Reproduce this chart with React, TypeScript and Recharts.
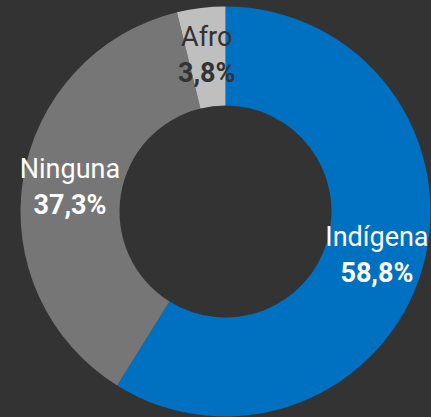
import { Cell, Pie, PieChart } from "recharts";

export const groups = ["Indígena", "Ninguna", "Afro"];
export const shares = [58.8, 37.3, 3.8];
export const colors = ["#0070c0", "#767676", "#bfbfbf"];
export const labelColors = ["#ffffff", "#ffffff", "#333333"];

const data = groups.map((name, i) => ({ name, value: shares[i] }));

const RADIAN = Math.PI / 180;

function renderLabel(props: any) {
    const { cx, cy, midAngle, innerRadius, outerRadius, index } = props;
    const r = (innerRadius + outerRadius) / 2 + 2;
    const x = cx + r * Math.cos(-midAngle * RADIAN);
    const y = cy + r * Math.sin(-midAngle * RADIAN);
    const fill = labelColors[index];
    const pct = shares[index].toFixed(1).replace(".", ",") + "%";
    return (
        <g>
            <text
                x={x}
                y={y - 18}
                fill={fill}
                textAnchor="middle"
                dominantBaseline="central"
                fontFamily="Roboto"
                fontSize={27}
                fontWeight={400}
            >
                {groups[index]}
            </text>
            <text
                x={x}
                y={y + 18}
                fill={fill}
                textAnchor="middle"
                dominantBaseline="central"
                fontFamily="Roboto"
                fontSize={27}
                fontWeight={700}
            >
                {pct}
            </text>
        </g>
    );
}

export default function App() {
    return (
        <div
            style={{
                position: "fixed",
                left: 0,
                top: 0,
                width: 431,
                height: 417,
                background: "#333333",
            }}
        >
            <PieChart
                width={431}
                height={417}
                margin={{ top: 0, right: 0, bottom: 0, left: 0 }}
            >
                <Pie
                    data={data}
                    dataKey="value"
                    nameKey="name"
                    cx={225.5}
                    cy={211.5}
                    innerRadius={106}
                    outerRadius={205}
                    startAngle={90}
                    endAngle={-270}
                    stroke="none"
                    label={renderLabel}
                    labelLine={false}
                    isAnimationActive={false}
                >
                    {data.map((d, i) => (
                        <Cell key={d.name} fill={colors[i]} />
                    ))}
                </Pie>
            </PieChart>
        </div>
    );
}
